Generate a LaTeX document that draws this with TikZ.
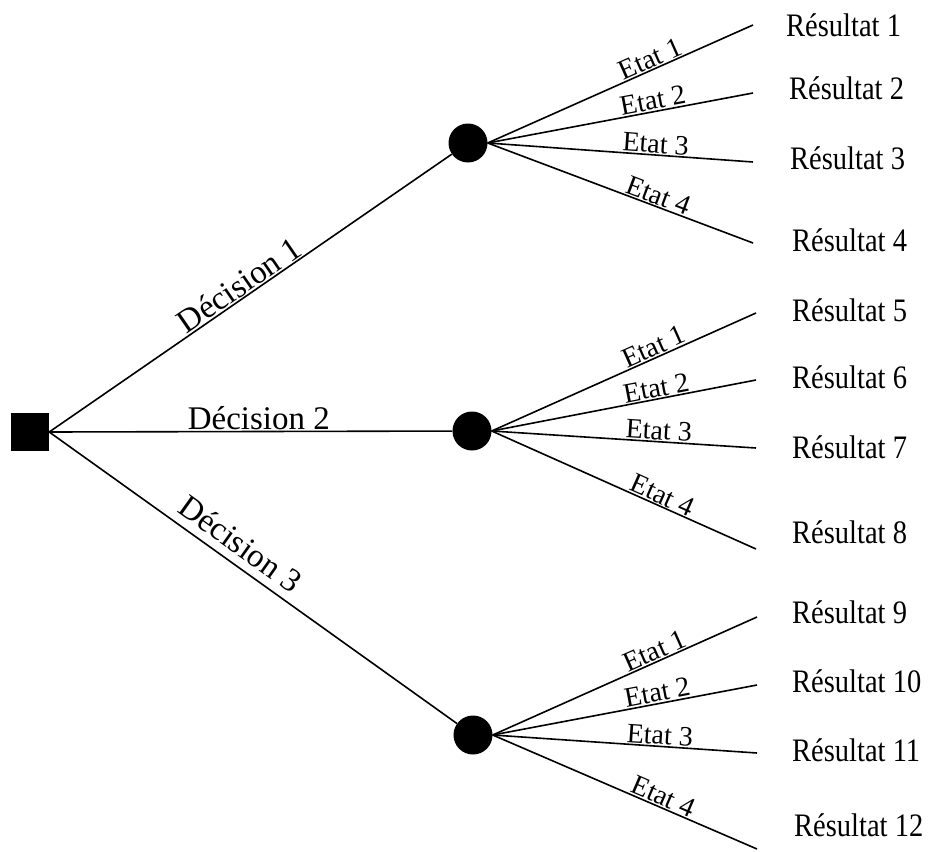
\documentclass[tikz,border=0pt]{standalone}
\usepackage{fontspec}
\setmainfont{Liberation Serif}
\newcommand{\tallres}[1]{\scalebox{1}[1.15]{#1}}
\begin{document}
\begin{tikzpicture}[x=1pt,y=-1pt,
  branch/.style={line width=1.6pt, black},
  chance/.style={circle, fill=black, minimum size=39pt, inner sep=0pt},
  decisionbox/.style={rectangle, fill=black, minimum size=38pt, inner sep=0pt},
  result/.style={anchor=west, inner sep=0pt, font=\fontsize{28.5}{30}\selectfont},
  etat/.style={sloped, above, inner sep=1pt, font=\fontsize{28}{30}\selectfont, pos=0.63},
  declab/.style={sloped, above, inner sep=1pt, font=\fontsize{33}{35}\selectfont, pos=0.5}
]
\useasboundingbox (0,0) rectangle (950,851);

\node[decisionbox] (d) at (30,432) {};
\node[chance] (c1) at (468,143) {};
\node[chance] (c2) at (472,431) {};
\node[chance] (c3) at (473,735) {};

\coordinate (e1) at (753,25);
\coordinate (e2) at (753,93);
\coordinate (e3) at (753,162);
\coordinate (e4) at (753,243);
\coordinate (e5) at (756,313);
\coordinate (e6) at (756,380);
\coordinate (e7) at (756,448);
\coordinate (e8) at (756,549);
\coordinate (e9) at (757,617);
\coordinate (e10) at (757,685);
\coordinate (e11) at (757,753);
\coordinate (e12) at (757,849);

\draw[branch] (d.east) -- node[declab, pos=0.49]{Décision 1} (c1);
\draw[branch] (d.east) -- node[declab, pos=0.52]{Décision 2} (c2);
\draw[branch] (d.east) -- node[declab, pos=0.44, above=7pt]{Décision 3} (c3);

\draw[branch] (c1.east) -- node[etat]{Etat 1} (e1);
\draw[branch] (c1.east) -- node[etat]{Etat 2} (e2);
\draw[branch] (c1.east) -- node[etat]{Etat 3} (e3);
\draw[branch] (c1.east) -- node[etat]{Etat 4} (e4);

\draw[branch] (c2.east) -- node[etat]{Etat 1} (e5);
\draw[branch] (c2.east) -- node[etat]{Etat 2} (e6);
\draw[branch] (c2.east) -- node[etat]{Etat 3} (e7);
\draw[branch] (c2.east) -- node[etat]{Etat 4} (e8);

\draw[branch] (c3.east) -- node[etat]{Etat 1} (e9);
\draw[branch] (c3.east) -- node[etat]{Etat 2} (e10);
\draw[branch] (c3.east) -- node[etat]{Etat 3} (e11);
\draw[branch] (c3.east) -- node[etat]{Etat 4} (e12);

\node[result] (r1) at (786,25) {\tallres{Résultat 1}};
\node[result] (r2) at (789,88) {\tallres{Résultat 2}};
\node[result] (r3) at (790,158) {\tallres{Résultat 3}};
\node[result] (r4) at (792,240) {\tallres{Résultat 4}};
\node[result] (r5) at (792,310) {\tallres{Résultat 5}};
\node[result] (r6) at (792,377) {\tallres{Résultat 6}};
\node[result] (r7) at (792,447) {\tallres{Résultat 7}};
\node[result] (r8) at (792,532) {\tallres{Résultat 8}};
\node[result] (r9) at (792,612) {\tallres{Résultat 9}};
\node[result] (r10) at (792,681) {\tallres{Résultat 10}};
\node[result] (r11) at (792,750) {\tallres{Résultat 11}};
\node[result] (r12) at (794,825) {\tallres{Résultat 12}};
\end{tikzpicture}
\end{document}
